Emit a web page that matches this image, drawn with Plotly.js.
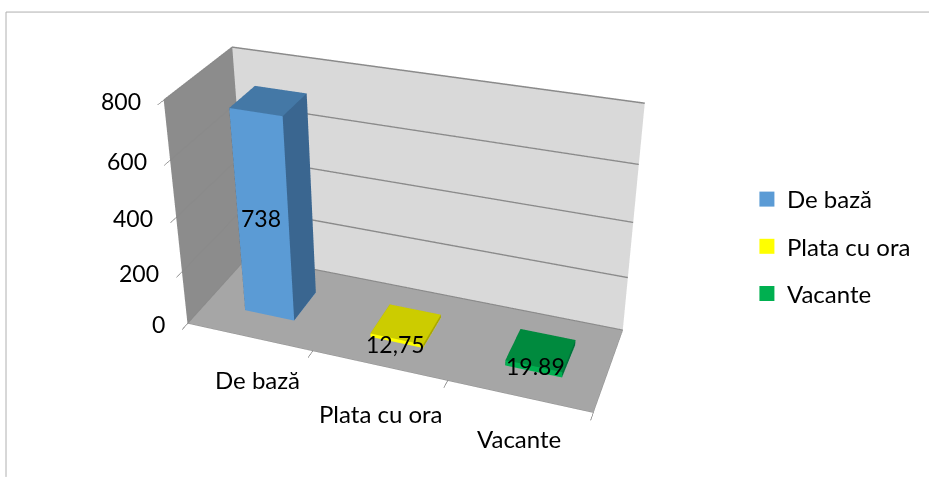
<!DOCTYPE html><html><head><meta charset="utf-8"></head><body style="margin:0;overflow:hidden;width:929px;height:477px">
<script src="https://cdn.plot.ly/plotly-3.0.1.min.js"></script>
<div id="c" style="position:absolute;left:0"></div>
<script>
const categories=['De bază','Plata cu ora','Vacante'];
const values=[738,12.75,19.89];
const valueLabels=['738','12,75','19.89'];
const zTicks=[0,200,400,600,800];
const frontColors=['#5b9bd5','#ffff00','#00b050'];
const topColors=['#4478a6','#cccc00','#008a3e'];
const sideColors=['#3a6690','#a8a600','#00703a'];

const W=929,viewH=1011.3,viewTop=-324.15,viewCx=380.893;
document.getElementById('c').style.top=viewTop+'px';
const py=y=>1-(y-viewTop)/viewH;

const hw=0.2,barShift=0.02,y0=.30,y1=.70,labelY=.24;
const traces=categories.map((name,i)=>{const c=i+1+barShift,v=values[i];
 const x=[c-hw,c+hw,c+hw,c-hw,c-hw,c+hw,c+hw,c-hw],y=[y0,y0,y1,y1,y0,y0,y1,y1],z=[0,0,0,0,v,v,v,v];
 const F=frontColors[i],Tc=topColors[i],S=sideColors[i];
 return {type:'mesh3d',name,x,y,z,
  i:[0,0,1,1,4,4,0,0,3,3,0,0],j:[1,2,2,6,5,6,1,5,2,6,3,7],k:[2,3,6,5,6,7,5,4,6,7,7,4],
  facecolor:[F,F,S,S,Tc,Tc,F,F,S,S,S,S],
  flatshading:true,lighting:{ambient:1,diffuse:0,specular:0,fresnel:0,roughness:1},hoverinfo:'skip',showlegend:false};
});
categories.forEach((name,i)=>traces.push({type:'scatter',mode:'markers',x:[null],y:[null],name,marker:{symbol:'square',size:15,color:frontColors[i]},legendgroup:name,hoverinfo:'skip'}));

const af={family:'Lato, sans-serif',size:24,color:'#000'};
const nf={family:'Lato, sans-serif',size:23,color:'#000'};
const catDx=[8,2,0],catDy=[-43,-48,-42];
const valDx=[4,5,7],valDy=[4,1,7];
const ann=[];
zTicks.forEach(v=>ann.push({x:.5,y:0,z:v,text:String(v),showarrow:false,xanchor:'right',xshift:-21,yshift:-1,font:nf}));
categories.forEach((t,i)=>ann.push({x:i+1,y:0,z:0,text:t,showarrow:false,xshift:catDx[i],yshift:catDy[i],font:af}));
valueLabels.forEach((t,i)=>ann.push({x:i+1,y:labelY,z:values[i]/2,text:t,showarrow:false,xshift:valDx[i],yshift:valDy[i],font:nf}));

const layout={width:W,height:viewH,margin:{l:0,r:0,t:0,b:0},paper_bgcolor:'#fff',
 xaxis:{visible:false},yaxis:{visible:false},
 legend:{x:.804,y:py(177),xanchor:'left',yanchor:'top',font:{family:'Lato, sans-serif',size:24,color:'#000'},tracegroupgap:13,bgcolor:'rgba(0,0,0,0)'},
 shapes:[{type:'line',xref:'paper',yref:'paper',x0:6/W,x1:1,y0:py(12),y1:py(12),line:{color:'#b0b0b0',width:1}},
  {type:'line',xref:'paper',yref:'paper',x0:6/W,x1:6/W,y0:py(477),y1:py(12),line:{color:'#b0b0b0',width:1}}],
 scene:{domain:{x:[0,2*viewCx/W],y:[0,1]},
  aspectmode:'manual',aspectratio:{x:1.7183,y:.5676,z:1.0254},dragmode:'orbit',
  camera:{eye:{x:1.4453,y:-3.9356,z:2.4111},center:{x:-.1291,y:.0996,z:.0987},up:{x:-2.0841,y:5.4939,z:1}},
  xaxis:{range:[.5,3.5],tickvals:[.5,1.5,2.5,3.5],showgrid:false,zeroline:false,showticklabels:false,showbackground:true,backgroundcolor:'#8c8c8c',showline:true,linecolor:'#8f8f8f',ticks:'outside',ticklen:8,title:{text:''},showspikes:false},
  yaxis:{range:[0,1],tickvals:[],showgrid:false,zeroline:false,showticklabels:false,showbackground:true,backgroundcolor:'#d9d9d9',showline:true,linecolor:'#8f8f8f',title:{text:''},showspikes:false},
  zaxis:{range:[0,800],tickvals:zTicks,gridcolor:'#8a8a8a',gridwidth:3,zeroline:false,showticklabels:false,showbackground:true,backgroundcolor:'#a6a6a6',showline:true,linecolor:'#8f8f8f',ticks:'outside',ticklen:8,title:{text:''},showspikes:false},
  annotations:ann}};
Plotly.newPlot('c',traces,layout,{displayModeBar:false});
</script></body></html>
